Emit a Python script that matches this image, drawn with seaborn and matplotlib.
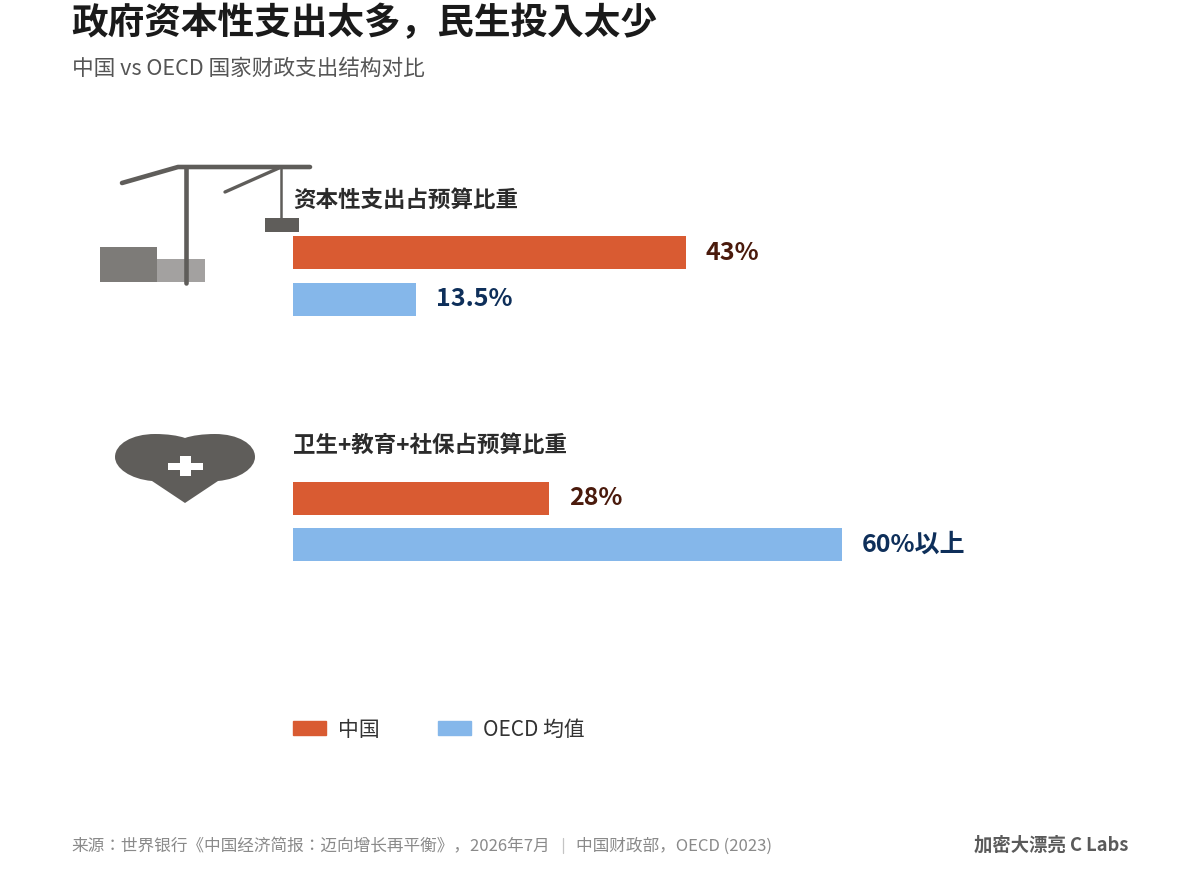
import matplotlib
matplotlib.use("Agg")
import matplotlib.pyplot as plt
from matplotlib.patches import Patch, PathPatch, Rectangle
from matplotlib.path import Path
import pandas as pd
import seaborn as sns

groups = ["China", "OECD"]
legend_labels = ["中国", "OECD 均值"]
capital_values = [43, 13.5]
capital_labels = ["43%", "13.5%"]
welfare_values = [28, 60]
welfare_labels = ["28%", "60%以上"]

W, H = 1200, 888
ORANGE = "#D95B32"
BLUE = "#85B7EA"
LABEL_COLORS = {"China": "#4A1A0C", "OECD": "#0E2F5A"}
GREY = "#5F5D5A"

sns.set_theme(style="white")
plt.rcParams["font.family"] = ["Noto Sans CJK JP", "DejaVu Sans"]

fig = plt.figure(figsize=(W / 100, H / 100), dpi=100, facecolor="white")

# overlay in pixel coords for icons and loose text
bg = fig.add_axes([0, 0, 1, 1])
bg.set_xlim(0, W)
bg.set_ylim(H, 0)
bg.axis("off")


def draw_panel(values, labels, top, bottom):
    # 9.14 px per percentage point, axes starts at the bars' left edge
    ax = fig.add_axes([293 / W, 1 - bottom / H, 640 / W, (bottom - top) / H])
    df = pd.DataFrame({"group": groups, "value": values})
    sns.barplot(data=df, x="value", y="group", hue="group", hue_order=groups,
                palette=[ORANGE, BLUE], width=0.72, saturation=1, legend=False,
                orient="h", linewidth=0, ax=ax)
    ax.set_xlim(0, 70)
    ax.axis("off")
    for container, group, label in zip(ax.containers, groups, labels):
        ax.bar_label(container, labels=[label], padding=14.2, fontsize=18,
                     fontweight="bold", color=LABEL_COLORS[group], clip_on=False)
    ax.patch.set_alpha(0)
    return ax


draw_panel(capital_values, capital_labels, 229.5, 322.5)
draw_panel(welfare_values, welfare_labels, 475, 568)

# titles
bg.text(71.5, 24, "政府资本性支出太多，民生投入太少", fontsize=26.4, fontweight="bold",
        color="#1A1A1A", va="center", ha="left")
bg.text(71.5, 69, "中国 vs OECD 国家财政支出结构对比", fontsize=15.6, color="#555555",
        va="center", ha="left")
bg.text(293, 200, "资本性支出占预算比重", fontsize=16.2, fontweight="bold",
        color="#2B2B2B", va="center", ha="left")
bg.text(293, 445, "卫生+教育+社保占预算比重", fontsize=16.2, fontweight="bold",
        color="#2B2B2B", va="center", ha="left")

# crane icon
bg.add_patch(Rectangle((100, 246.5), 57, 35, color="#7D7B78", lw=0))
bg.add_patch(Rectangle((157, 259), 48, 22.5, color="#A3A1A0", lw=0))
bg.plot([122, 178, 310], [183, 167, 167], color=GREY, lw=3.3, solid_capstyle="round",
        solid_joinstyle="round")
bg.plot([186, 186], [167, 283], color=GREY, lw=3.3, solid_capstyle="round")
bg.plot([225, 279], [192, 168], color=GREY, lw=2.4, solid_capstyle="round")
bg.plot([281, 281], [167, 218], color=GREY, lw=1.8)
bg.add_patch(Rectangle((265, 218), 34, 14, color=GREY, lw=0))

# heart icon
heart = Path(
    [(185, 438), (178, 435.5), (167, 434), (155, 434), (132, 434), (115, 444), (115, 457),
     (115, 468), (130, 479), (152, 481), (185, 503), (218, 481), (240, 479), (255, 468),
     (255, 457), (255, 444), (238, 434), (215, 434), (203, 434), (192, 435.5), (185, 438),
     (185, 438)],
    [Path.MOVETO, Path.CURVE4, Path.CURVE4, Path.CURVE4, Path.CURVE4, Path.CURVE4, Path.CURVE4,
     Path.CURVE4, Path.CURVE4, Path.CURVE4, Path.LINETO, Path.LINETO, Path.CURVE4, Path.CURVE4,
     Path.CURVE4, Path.CURVE4, Path.CURVE4, Path.CURVE4, Path.CURVE4, Path.CURVE4, Path.CURVE4,
     Path.CLOSEPOLY],
)
bg.add_patch(PathPatch(heart, facecolor=GREY, edgecolor="none"))
bg.add_patch(Rectangle((168, 463), 35, 7, color="white", lw=0))
bg.add_patch(Rectangle((180, 456), 11, 20, color="white", lw=0))

# legend
handles = [Patch(color=ORANGE, label=legend_labels[0]), Patch(color=BLUE, label=legend_labels[1])]
fig.legend(handles=handles, loc="center left", bbox_to_anchor=(293 / W, 1 - 729.5 / H),
           ncols=2, frameon=False, fontsize=15, labelcolor="#333333", borderpad=0,
           borderaxespad=0, handlelength=1.58, handleheight=0.67, handletextpad=0.58,
           columnspacing=2.8)

# footer
bg.text(71.5, 846.5, "来源：世界银行《中国经济简报：迈向增长再平衡》，2026年7月", fontsize=12,
        color="#8A8A8A", va="center", ha="left")
bg.plot([563, 563], [838, 853], color="#C4C4C4", lw=0.9)
bg.text(575.5, 846.5, "中国财政部，OECD (2023)", fontsize=12, color="#8A8A8A", va="center", ha="left")
bg.text(1128, 845.5, "加密大漂亮 C Labs", fontsize=13.2, fontweight="bold", color="#5A5A5A",
        va="center", ha="right")

fig.savefig("out.png", dpi=100, facecolor="white")
